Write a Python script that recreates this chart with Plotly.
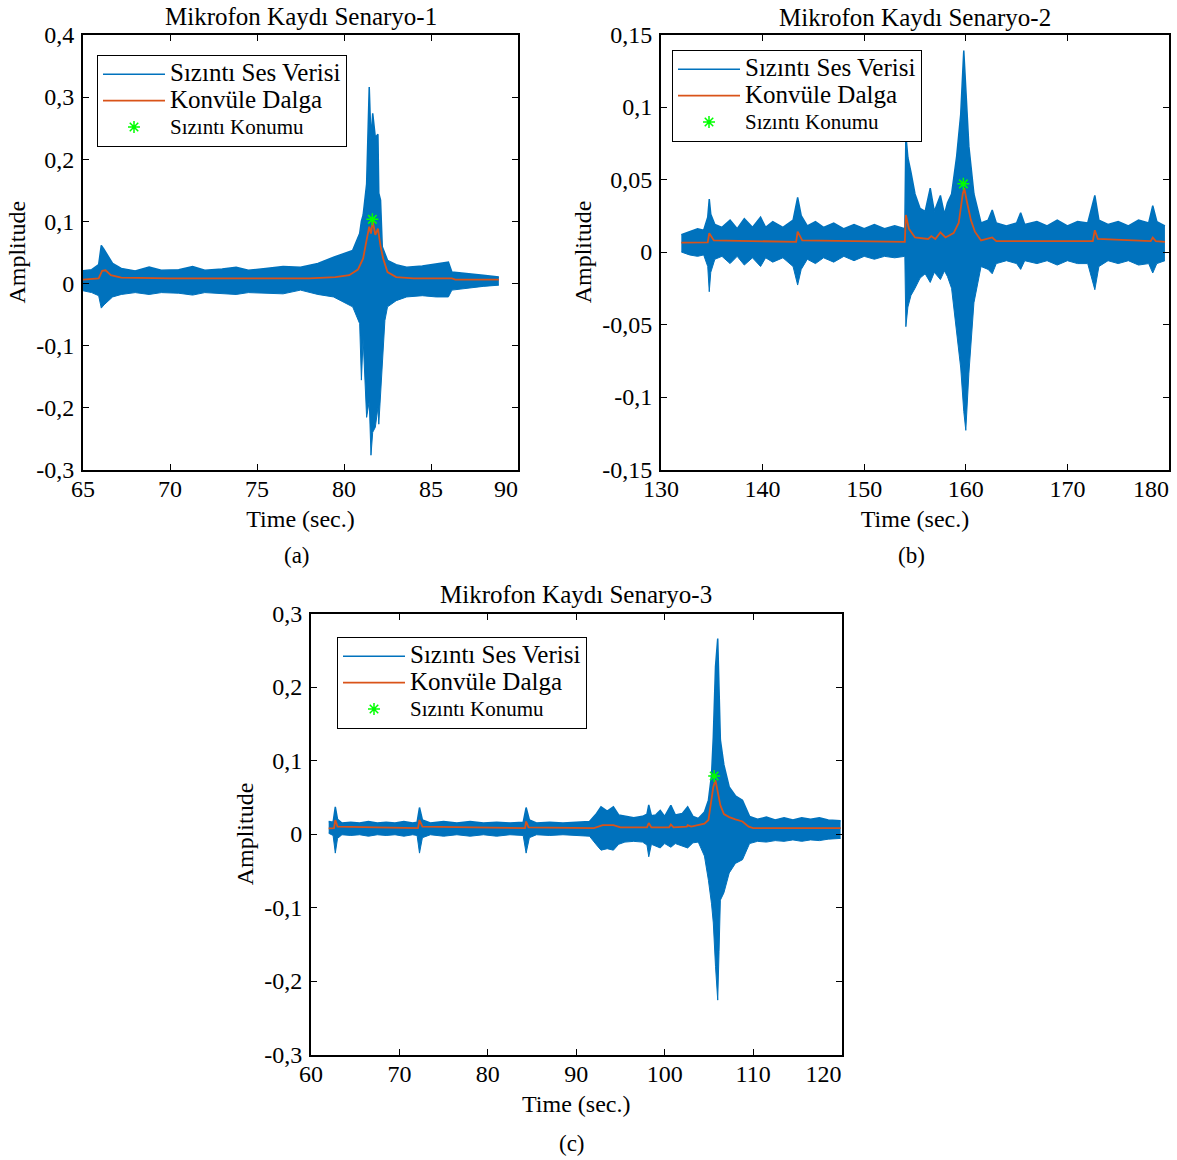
import plotly.graph_objects as go

# ---------------- Scenario 1 (a) ----------------
s1_time = [65.0, 65.5, 65.9, 66.05, 66.2, 66.4, 66.7, 67.2, 68.0, 68.8, 69.5, 70.5, 71.3, 72.0,
           73.0, 73.8, 74.5, 75.5, 76.5, 77.5, 78.5, 79.4, 80.0, 80.5, 80.9, 81.0, 81.1, 81.3,
           81.45, 81.55, 81.65, 81.8, 81.95, 82.0, 82.1, 82.2, 82.35, 82.5, 83.0, 83.6, 84.5,
           85.3, 86.0, 86.2, 87.0, 88.0, 88.9]
s1_upper = [0.020, 0.022, 0.030, 0.061, 0.055, 0.045, 0.032, 0.024, 0.020, 0.026, 0.021, 0.022,
            0.027, 0.021, 0.023, 0.026, 0.021, 0.024, 0.027, 0.026, 0.032, 0.042, 0.048, 0.053,
            0.080, 0.100, 0.110, 0.160, 0.316, 0.230, 0.274, 0.235, 0.240, 0.145, 0.134, 0.059,
            0.048, 0.037, 0.030, 0.026, 0.028, 0.031, 0.034, 0.018, 0.016, 0.013, 0.010]
s1_lower = [-0.012, -0.015, -0.020, -0.040, -0.035, -0.030, -0.022, -0.018, -0.015, -0.018,
            -0.015, -0.016, -0.019, -0.015, -0.016, -0.018, -0.015, -0.016, -0.017, -0.011,
            -0.018, -0.022, -0.030, -0.038, -0.065, -0.156, -0.090, -0.216, -0.190, -0.277,
            -0.240, -0.232, -0.200, -0.227, -0.180, -0.124, -0.060, -0.038, -0.028, -0.022,
            -0.020, -0.022, -0.022, -0.011, -0.008, -0.005, -0.003]
s1_conv_time = [65.0, 65.9, 66.1, 66.3, 66.6, 67.2, 70.0, 75.0, 78.0, 79.5, 80.3, 80.8, 81.1,
                81.3, 81.45, 81.55, 81.65, 81.8, 81.95, 82.1, 82.25, 82.5, 83.0, 84.0, 86.2,
                86.4, 88.9]
s1_conv = [0.006, 0.008, 0.020, 0.021, 0.013, 0.009, 0.008, 0.008, 0.008, 0.010, 0.013, 0.022,
           0.040, 0.070, 0.091, 0.080, 0.100, 0.078, 0.088, 0.060, 0.040, 0.018, 0.010, 0.008,
           0.008, 0.006, 0.006]
s1_leak_time = [81.63]
s1_leak_amp = [0.103]
s1_xticks = [65, 70, 75, 80, 85, 90]
s1_xticktext = ["65", "70", "75", "80", "85", "90"]
s1_yticks = [-0.3, -0.2, -0.1, 0, 0.1, 0.2, 0.3, 0.4]
s1_yticktext = ["-0,3", "-0,2", "-0,1", "0", "0,1", "0,2", "0,3", "0,4"]

# ---------------- Scenario 2 (b) ----------------
s2_time = [132.0, 132.8, 133.6, 134.2, 134.6, 134.75, 134.9, 135.3, 136.0, 136.8, 137.5, 138.2,
           139.0, 139.8, 140.3, 141.0, 142.0, 143.0, 143.45, 143.8, 144.4, 145.2, 146.0, 147.0,
           148.0, 149.0, 150.0, 151.0, 152.0, 153.0, 154.0, 154.1, 154.3, 154.6, 155.0, 155.5,
           156.0, 156.5, 156.9, 157.5, 157.9, 158.2, 158.6, 159.1, 159.5, 159.8, 160.0, 160.3,
           160.8, 161.5, 162.2, 162.6, 163.0, 164.0, 165.0, 165.4, 165.8, 167.0, 168.0, 169.0,
           170.0, 171.0, 172.0, 172.7, 173.1, 174.0, 175.0, 176.0, 177.0, 178.0, 178.4, 178.8,
           179.6]
s2_upper = [0.012, 0.014, 0.016, 0.015, 0.024, 0.0365, 0.026, 0.019, 0.017, 0.022, 0.016, 0.023,
            0.017, 0.024, 0.017, 0.021, 0.017, 0.022, 0.0377, 0.025, 0.018, 0.021, 0.017, 0.020,
            0.016, 0.019, 0.016, 0.019, 0.016, 0.018, 0.016, 0.0807, 0.065, 0.055, 0.040, 0.030,
            0.028, 0.044, 0.028, 0.039, 0.026, 0.034, 0.040, 0.066, 0.095, 0.139, 0.115, 0.073,
            0.040, 0.020, 0.022, 0.029, 0.020, 0.018, 0.020, 0.027, 0.019, 0.021, 0.018, 0.022,
            0.018, 0.021, 0.020, 0.039, 0.022, 0.019, 0.021, 0.018, 0.022, 0.020, 0.032, 0.021,
            0.018]
s2_lower = [0.000, -0.002, -0.003, -0.002, -0.010, -0.0274, -0.014, -0.005, -0.003, -0.008,
            -0.003, -0.009, -0.004, -0.010, -0.004, -0.007, -0.004, -0.010, -0.0228, -0.012,
            -0.005, -0.008, -0.004, -0.007, -0.003, -0.006, -0.003, -0.005, -0.003, -0.004,
            -0.003, -0.0515, -0.038, -0.030, -0.025, -0.018, -0.015, -0.021, -0.014, -0.019,
            -0.013, -0.017, -0.025, -0.056, -0.080, -0.110, -0.123, -0.084, -0.035, -0.010,
            -0.012, -0.015, -0.008, -0.006, -0.008, -0.012, -0.006, -0.008, -0.006, -0.009,
            -0.006, -0.008, -0.008, -0.026, -0.010, -0.006, -0.008, -0.006, -0.009, -0.008,
            -0.0145, -0.008, -0.006]
s2_conv_time = [132.0, 134.6, 134.75, 135.2, 143.3, 143.45, 143.9, 154.0, 154.1, 154.4, 155.0,
                156.3, 156.6, 157.0, 157.5, 158.0, 158.8, 159.3, 159.7, 159.85, 160.1, 160.5,
                160.9, 161.5, 162.6, 163.0, 172.5, 172.7, 173.0, 178.2, 178.4, 178.7, 179.6]
s2_conv = [0.0064, 0.0066, 0.013, 0.008, 0.007, 0.014, 0.008, 0.007, 0.0255, 0.016, 0.010,
           0.009, 0.011, 0.009, 0.0135, 0.010, 0.013, 0.020, 0.040, 0.044, 0.035, 0.022, 0.014,
           0.008, 0.010, 0.0075, 0.0075, 0.015, 0.009, 0.0075, 0.010, 0.0075, 0.007]
s2_leak_time = [159.76]
s2_leak_amp = [0.047]
s2_xticks = [130, 140, 150, 160, 170, 180]
s2_xticktext = ["130", "140", "150", "160", "170", "180"]
s2_yticks = [-0.15, -0.1, -0.05, 0, 0.05, 0.1, 0.15]
s2_yticktext = ["-0,15", "-0,1", "-0,05", "0", "0,05", "0,1", "0,15"]

# ---------------- Scenario 3 (c) ----------------
s3_time = [62.0, 62.5, 62.75, 63.0, 63.5, 64.5, 65.5, 66.5, 67.5, 68.5, 69.5, 70.5, 71.5, 72.0,
           72.27, 72.6, 73.5, 75.0, 76.5, 78.0, 79.5, 81.0, 82.5, 84.0, 84.33, 84.7, 85.5, 87.0,
           88.5, 90.0, 91.5, 92.3, 92.8, 93.5, 94.2, 94.8, 95.5, 96.5, 97.5, 98.0, 98.2, 98.5,
           99.0, 99.5, 100.0, 100.7, 101.2, 102.0, 102.6, 103.2, 103.8, 104.5, 104.95, 105.3,
           105.5, 105.75, 106.0, 106.15, 106.3, 106.7, 107.3, 108.0, 108.8, 109.6, 110.5, 111.5,
           112.5, 113.5, 114.5, 115.5, 116.5, 117.5, 118.5, 119.9]
s3_upper = [0.017, 0.016, 0.037, 0.020, 0.015, 0.016, 0.015, 0.017, 0.015, 0.016, 0.015, 0.017,
            0.015, 0.016, 0.036, 0.019, 0.015, 0.017, 0.015, 0.017, 0.015, 0.016, 0.015, 0.016,
            0.036, 0.019, 0.015, 0.016, 0.015, 0.016, 0.017, 0.028, 0.037, 0.031, 0.037, 0.026,
            0.024, 0.022, 0.024, 0.027, 0.0395, 0.025, 0.026, 0.032, 0.024, 0.039, 0.026, 0.028,
            0.037, 0.024, 0.021, 0.030, 0.046, 0.080, 0.132, 0.228, 0.266, 0.200, 0.128, 0.094,
            0.064, 0.052, 0.046, 0.024, 0.020, 0.023, 0.019, 0.022, 0.019, 0.022, 0.020, 0.022,
            0.019, 0.018]
s3_lower = [0.001, -0.002, -0.026, -0.006, -0.001, -0.002, -0.001, -0.003, -0.001, -0.002,
            -0.001, -0.003, -0.001, -0.002, -0.026, -0.005, -0.001, -0.003, -0.001, -0.003,
            -0.001, -0.003, -0.001, -0.002, -0.026, -0.005, -0.001, -0.002, -0.001, -0.002,
            -0.003, -0.015, -0.022, -0.020, -0.022, -0.014, -0.011, -0.010, -0.011, -0.015,
            -0.031, -0.014, -0.016, -0.019, -0.013, -0.018, -0.013, -0.016, -0.019, -0.012,
            -0.011, -0.030, -0.063, -0.095, -0.121, -0.180, -0.226, -0.160, -0.090, -0.080,
            -0.053, -0.040, -0.035, -0.013, -0.010, -0.011, -0.009, -0.010, -0.008, -0.010,
            -0.008, -0.009, -0.007, -0.006]
s3_conv_time = [62.0, 62.6, 62.75, 63.0, 72.1, 72.27, 72.6, 84.2, 84.33, 84.6, 92.0, 93.0, 94.2,
                95.0, 98.0, 98.2, 98.5, 100.5, 100.7, 101.0, 102.5, 102.6, 103.0, 104.5, 104.95,
                105.3, 105.5, 105.75, 106.0, 106.3, 106.7, 107.3, 108.0, 108.8, 109.5, 110.0,
                119.9]
s3_conv = [0.0077, 0.008, 0.019, 0.010, 0.008, 0.019, 0.010, 0.008, 0.017, 0.009, 0.008, 0.012,
           0.012, 0.009, 0.009, 0.015, 0.009, 0.009, 0.013, 0.009, 0.010, 0.012, 0.010, 0.014,
           0.019, 0.045, 0.064, 0.073, 0.058, 0.039, 0.027, 0.023, 0.020, 0.017, 0.010, 0.008,
           0.008]
s3_leak_time = [105.6]
s3_leak_amp = [0.079]
s3_xticks = [60, 70, 80, 90, 100, 110, 120]
s3_xticktext = ["60", "70", "80", "90", "100", "110", "120"]
s3_yticks = [-0.3, -0.2, -0.1, 0, 0.1, 0.2, 0.3]
s3_yticktext = ["-0,3", "-0,2", "-0,1", "0", "0,1", "0,2", "0,3"]

titles = ["Mikrofon Kaydı Senaryo-1", "Mikrofon Kaydı Senaryo-2", "Mikrofon Kaydı Senaryo-3"]
captions = ["(a)", "(b)", "(c)"]
legend_names = ["Sızıntı Ses Verisi", "Konvüle Dalga", "Sızıntı Konumu"]

# ---------------- styling ----------------
FONT = "Liberation Serif, Times New Roman, serif"
BLUE = "#0072BD"
ORANGE = "#D95319"
GREEN = "#00FF00"
W, H = 1177, 1160

panels = [
    dict(time=s1_time, up=s1_upper, lo=s1_lower, ct=s1_conv_time, cv=s1_conv,
         lt=s1_leak_time, la=s1_leak_amp, xt=s1_xticks, xtt=s1_xticktext,
         yt=s1_yticks, ytt=s1_yticktext, xr=[65, 90], yr=[-0.3, 0.4],
         px=(83, 518), py=(35, 469.5), leg=(97, 55), title_y=16, cap_y=555),
    dict(time=s2_time, up=s2_upper, lo=s2_lower, ct=s2_conv_time, cv=s2_conv,
         lt=s2_leak_time, la=s2_leak_amp, xt=s2_xticks, xtt=s2_xticktext,
         yt=s2_yticks, ytt=s2_yticktext, xr=[130, 180], yr=[-0.15, 0.15],
         px=(661, 1169), py=(34.5, 469.5), leg=(672, 50), title_y=18, cap_y=555),
    dict(time=s3_time, up=s3_upper, lo=s3_lower, ct=s3_conv_time, cv=s3_conv,
         lt=s3_leak_time, la=s3_leak_amp, xt=s3_xticks, xtt=s3_xticktext,
         yt=s3_yticks, ytt=s3_yticktext, xr=[60, 120], yr=[-0.3, 0.3],
         px=(311, 841.5), py=(613.5, 1054.5), leg=(337, 637), title_y=594, cap_y=1143),
]


def fx(px):
    return px / W


def fy(py):
    return 1 - py / H


def sized(s, size):
    return "<span style='font-size:%dpx'>%s</span>" % (size, s)


fig = go.Figure()
layout_updates = {}
annotations = []
TICKFONT = dict(family=FONT, size=24, color="black")

for i, p in enumerate(panels):
    n = "" if i == 0 else str(i + 1)
    xa, ya = "x" + n, "y" + n
    xo = "x" + str(4 + i)          # overlay x axis (same range) carrying the last tick label
    leg = "legend" + n
    fig.add_trace(go.Scatter(x=p["time"], y=p["up"], mode="lines", xaxis=xa, yaxis=ya,
                             line=dict(color=BLUE, width=1.5), name=sized(legend_names[0], 25),
                             legend=leg, hoverinfo="skip"))
    fig.add_trace(go.Scatter(x=p["time"], y=p["lo"], mode="lines", xaxis=xa, yaxis=ya,
                             line=dict(color=BLUE, width=1), fill="tonexty", fillcolor=BLUE,
                             showlegend=False, hoverinfo="skip"))
    fig.add_trace(go.Scatter(x=p["ct"], y=p["cv"], mode="lines", xaxis=xa, yaxis=ya,
                             line=dict(color=ORANGE, width=1.8), name=sized(legend_names[1], 25),
                             legend=leg, hoverinfo="skip"))
    fig.add_trace(go.Scatter(x=p["lt"], y=p["la"], mode="markers", xaxis=xo, yaxis=ya,
                             marker=dict(symbol="asterisk-open", size=10,
                                         line=dict(color=GREEN, width=1.5), color=GREEN),
                             name=sized(legend_names[2], 21),
                             legend=leg, hoverinfo="skip"))

    x0, x1 = p["px"]
    y0, y1 = p["py"]
    main_text = list(p["xtt"][:-1]) + [""]
    axis_common = dict(showline=True, linecolor="black", linewidth=2, mirror="ticks",
                       ticks="inside", ticklen=6, tickwidth=1, tickcolor="black",
                       showgrid=False, zeroline=False, automargin=False,
                       tickfont=TICKFONT)
    layout_updates["xaxis" + n] = dict(
        axis_common, domain=[fx(x0), fx(x1)], range=p["xr"], anchor=ya,
        tickmode="array", tickvals=p["xt"], ticktext=main_text, ticklabelstandoff=-3,
        title=dict(text="Time (sec.)", font=dict(family=FONT, size=24, color="black"),
                   standoff=9))
    layout_updates["xaxis" + str(4 + i)] = dict(
        domain=[fx(x0), fx(x1)], range=p["xr"], anchor=ya, overlaying=xa, side="bottom",
        tickmode="array", tickvals=p["xt"][-1:], ticktext=p["xtt"][-1:],
        ticklabelposition="outside left", ticks="", showline=False, showgrid=False,
        zeroline=False, automargin=False, ticklabelstandoff=2, tickfont=TICKFONT,
        ticklabeloverflow="allow")
    layout_updates["yaxis" + n] = dict(
        axis_common, domain=[fy(y1), fy(y0)], range=p["yr"], anchor=xa,
        tickmode="array", tickvals=p["yt"], ticktext=p["ytt"], ticklabelstandoff=2,
        title=dict(text="Amplitude", font=dict(family=FONT, size=24, color="black"),
                   standoff=4))
    lx, ly = p["leg"]
    layout_updates[leg] = dict(x=fx(lx), y=fy(ly), xanchor="left", yanchor="top",
                               bordercolor="black", borderwidth=1, bgcolor="white",
                               font=dict(family=FONT, size=18, color="black"),
                               itemwidth=62, tracegroupgap=0, traceorder="normal")
    cx = (x0 + x1) / 2
    annotations.append(dict(text=titles[i], x=fx(cx), y=fy(p["title_y"]), xref="paper",
                            yref="paper", xanchor="center", yanchor="middle", showarrow=False,
                            font=dict(family=FONT, size=25, color="black")))
    annotations.append(dict(text=captions[i], x=fx(cx - 4), y=fy(p["cap_y"]), xref="paper",
                            yref="paper", xanchor="center", yanchor="middle", showarrow=False,
                            font=dict(family=FONT, size=23, color="black")))

fig.update_layout(**layout_updates)
fig.update_layout(width=W, height=H, margin=dict(l=0, r=0, t=0, b=0),
                  paper_bgcolor="white", plot_bgcolor="white", annotations=annotations,
                  font=dict(family=FONT, color="black"), hovermode=False)

fig.write_html("out.html", config={"displayModeBar": False},
               post_script="document.body.style.margin='0px';"
                           "document.body.style.overflow='hidden';")
